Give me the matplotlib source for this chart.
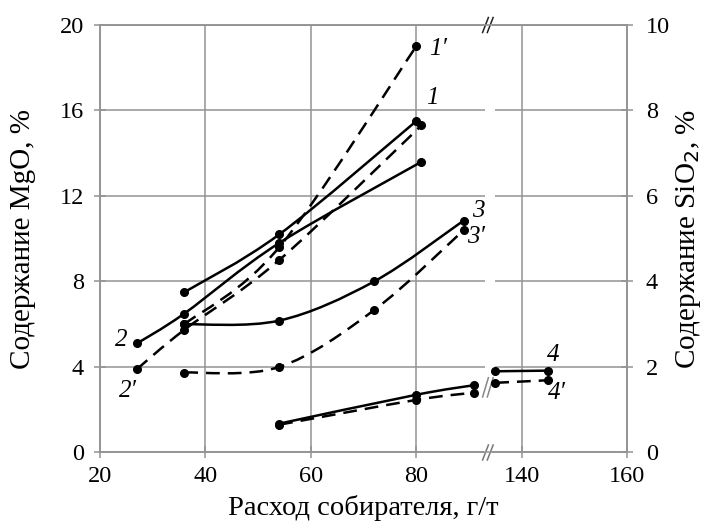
import numpy as np
import matplotlib
matplotlib.use("Agg")
import matplotlib.pyplot as plt
from matplotlib.path import Path
from matplotlib.patches import PathPatch, Rectangle

plt.rcParams['font.family'] = ['Liberation Serif', 'DejaVu Serif']

# ---- data (real x in g/t) ----
x_ticks_real = [20, 40, 60, 80, 140, 160]
x_tick_labels = ['20', '40', '60', '80', '140', '160']
mgo_ticks = [0, 4, 8, 12, 16, 20]
sio2_ticks = [0, 2, 4, 6, 8, 10]

# MgO (left axis), solid
c1_x = [36, 54, 80];            c1_y = [7.5, 10.2, 15.5]
c2_x = [27, 36, 54, 81];        c2_y = [5.1, 6.5, 9.8, 13.6]
c3_x = [36, 54, 72, 89];        c3_y = [6.0, 6.17, 8.0, 10.85]
c4a_x = [54, 80, 91];           c4a_y = [1.35, 2.7, 3.15]
c4b_x = [135, 145];             c4b_y = [3.8, 3.83]
# SiO2 (right axis), dashed
d1_x = [36, 54, 80];            d1_y = [3.0, 4.8, 9.5]
d2_x = [27, 36, 54, 81];        d2_y = [1.95, 2.87, 4.5, 7.65]
d3_x = [36, 54, 72, 89];        d3_y = [1.87, 2.0, 3.33, 5.2]
d4a_x = [54, 80, 91];           d4a_y = [0.65, 1.23, 1.4]
d4b_x = [135, 145];             d4b_y = [1.63, 1.69]

BREAK_LO, SHIFT = 95, 40   # axis gap: real x >= 100 shifted left by 40


def pos(xs):
    xs = np.asarray(xs, dtype=float)
    return np.where(xs > BREAK_LO + 10, xs - SHIFT, xs)


def smooth_path(x, y):
    p = np.column_stack([x, y]).astype(float)
    n = len(p)
    verts = [p[0]]
    codes = [Path.MOVETO]
    if n == 2:
        verts.append(p[1]); codes.append(Path.LINETO)
        return Path(verts, codes)
    for i in range(n - 1):
        p0 = p[i - 1] if i > 0 else p[i]
        p1, p2 = p[i], p[i + 1]
        p3 = p[i + 2] if i + 2 < n else p[i + 1]
        c1 = p1 + (p2 - p0) / 6.0
        c2 = p2 - (p3 - p1) / 6.0
        verts += [c1, c2, p2]
        codes += [Path.CURVE4] * 3
    return Path(verts, codes)


fig = plt.figure(figsize=(7.1, 5.23), dpi=100)
ax = fig.add_axes([0.1408, 0.1348, 0.7423, 0.8174])
ax2 = ax.twinx()

grid_c = '#939393'
ax.set_xlim(20, 120)
ax.set_ylim(0, 20)
ax2.set_ylim(0, 10)
ax.set_xticks(pos(x_ticks_real))
ax.set_xticklabels(x_tick_labels)
ax.set_yticks(mgo_ticks)
ax2.set_yticks(sio2_ticks)

ax.set_axisbelow(True)
ax.grid(True, color=grid_c, lw=1.1)
for a in (ax, ax2):
    for s in a.spines.values():
        s.set_color(grid_c)
        s.set_linewidth(1.1)
    a.tick_params(colors=grid_c, labelcolor='black', labelsize=17.5,
                  width=1.1, length=9, direction='inout')
ax.tick_params(axis='x', pad=5)
ax.tick_params(axis='y', pad=7)
ax2.tick_params(axis='y', pad=9)

# white gap in gridlines at the break
ax.add_patch(Rectangle((93.0, 0.05), 2.0, 19.9, facecolor='white',
                       edgecolor='none', zorder=0.8))

lw = 1.8
dash = (0, (5.5, 3.2))


def draw(a, x, y, dashed):
    px = pos(x)
    patch = PathPatch(smooth_path(px, y), facecolor='none', edgecolor='black',
                      lw=lw, linestyle=dash if dashed else '-', zorder=3)
    a.add_patch(patch)
    a.plot(px, y, 'o', color='black', ms=5.5, zorder=4)


for (x, y) in [(c1_x, c1_y), (c2_x, c2_y), (c3_x, c3_y), (c4a_x, c4a_y), (c4b_x, c4b_y)]:
    draw(ax, x, y, False)
for (x, y) in [(d1_x, d1_y), (d2_x, d2_y), (d3_x, d3_y), (d4a_x, d4a_y), (d4b_x, d4b_y)]:
    draw(ax2, x, y, True)

# curve labels
lab_kw = dict(fontsize=18, style='italic', ha='center', va='center')
ax.text(84.2, 18.9, '1′', **lab_kw)
ax.text(83.0, 16.6, '1', **lab_kw)
ax.text(91.8, 11.3, '3', **lab_kw)
ax.text(91.4, 10.1, '3′', **lab_kw)
ax.text(24.0, 5.26, '2', **lab_kw)
ax.text(25.4, 2.9, '2′', **lab_kw)
ax.text(106.0, 4.55, '4', **lab_kw)
ax.text(106.8, 2.8, '4′', **lab_kw)

# break marks
def slashes(xc, yc, col, h=0.35, dx=0.55, sep=0.9):
    for k in (-sep / 2, sep / 2):
        ax.plot([xc + k - dx, xc + k + dx], [yc - h, yc + h], color=col,
                lw=1.1, clip_on=False, zorder=5)

# gaps in top/bottom spines
for yy in (0, 20):
    ax.add_patch(Rectangle((92.9, yy - 0.1), 1.5, 0.2, facecolor='white',
                           edgecolor='none', zorder=4.5, clip_on=False))
slashes(93.6, 20.0, '#222222')
slashes(93.6, 0.0, '#777777')
slashes(93.6, 3.05, '#888888', h=0.45)

ax.set_xlabel('Расход собирателя, г/т', fontsize=20.5)
ax.set_ylabel('Содержание MgO, %', fontsize=21)
ax2.set_ylabel('Содержание SiO$_2$, %', fontsize=21)
ax.xaxis.set_label_coords(0.5, -0.1)
ax.yaxis.set_label_coords(-0.122, 0.5)
ax2.yaxis.set_label_coords(1.09, 0.5)

fig.savefig('out.png', dpi=100)
